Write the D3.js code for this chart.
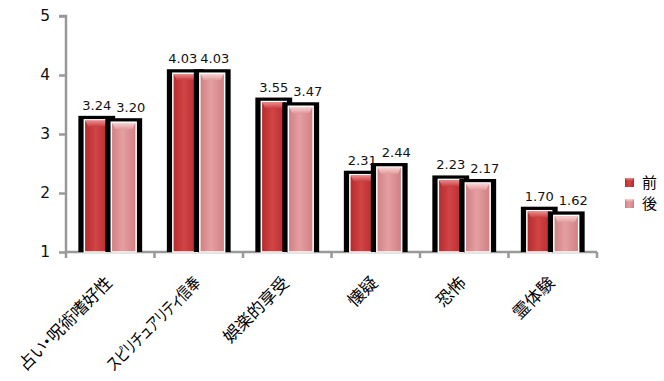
<!DOCTYPE html>
<html><head><meta charset="utf-8">
<script src="https://cdn.jsdelivr.net/npm/d3@7"></script>
<style>body{margin:0;background:#fff}svg{display:block}.xl{font-feature-settings:"palt" 1;}</style>
</head><body>
<svg id="c" width="664" height="381"></svg>
<script>
const categories = ["占い・呪術嗜好性","スピリチュアリティ信奉","娯楽的享受","懐疑","恐怖","霊体験"];
const seriesNames = ["前","後"];
const before = [3.24,4.03,3.55,2.31,2.23,1.70];
const after  = [3.20,4.03,3.47,2.44,2.17,1.62];
const yTicks = [1,2,3,4,5];

const svg = d3.select("#c");
const M = {l:66, r:597, t:16, b:252};
const y = d3.scaleLinear().domain([1,5]).range([M.b, M.t]);
const x0 = d3.scaleBand().domain(categories).range([M.l, M.r]).paddingInner(0).paddingOuter(0);
const x1 = d3.scaleBand().domain(seriesNames).range([0, x0.bandwidth()]).paddingOuter(0.68).paddingInner(0.08);

const defs = svg.append("defs");
const pal = {
  "前": {edge:"#b42a2c", mid:"#d24446", cap:"#ee8a8a", capEdge:"#c63c3e"},
  "後": {edge:"#cf7f82", mid:"#e59fa1", cap:"#f9d2d2", capEdge:"#e0999b"}
};
seriesNames.forEach((s,i)=>{
  const p = pal[s];
  const g = defs.append("linearGradient").attr("id","body"+i).attr("x1","0").attr("x2","1").attr("y1","0").attr("y2","0");
  g.append("stop").attr("offset","0").attr("stop-color",p.edge);
  g.append("stop").attr("offset","0.45").attr("stop-color",p.mid);
  g.append("stop").attr("offset","1").attr("stop-color",p.edge);
  const c = defs.append("linearGradient").attr("id","cap"+i).attr("x1","0").attr("x2","0").attr("y1","0").attr("y2","1");
  c.append("stop").attr("offset","0").attr("stop-color",p.cap);
  c.append("stop").attr("offset","1").attr("stop-color",p.capEdge);
});

// axes
const axisColor = "#999";
const yAxis = svg.append("g").attr("transform",`translate(${M.l},0)`)
  .call(d3.axisLeft(y).tickValues(yTicks).tickFormat(d3.format("d")).tickSize(7).tickPadding(9));
yAxis.select(".domain").attr("stroke",axisColor).attr("stroke-width",2.5).attr("d",`M-7,${M.t}H0V${M.b}`);
yAxis.selectAll(".tick line").attr("stroke",axisColor).attr("stroke-width",2.5);
yAxis.selectAll(".tick text").attr("font-family","DejaVu Sans, sans-serif").attr("font-size",15.5).attr("fill","#111");

const bounds = categories.map(c=>x0(c)).concat([M.r]);
const xg = svg.append("g");
xg.append("line").attr("x1",M.l).attr("x2",M.r).attr("y1",M.b).attr("y2",M.b).attr("stroke",axisColor).attr("stroke-width",2.5);
xg.selectAll("line.t").data(bounds).join("line").attr("class","t")
  .attr("x1",d=>d).attr("x2",d=>d).attr("y1",M.b).attr("y2",M.b+6).attr("stroke",axisColor).attr("stroke-width",2.5);

// bars
const data = categories.map((c,i)=>({c, vals:[{s:"前",v:before[i],i:0},{s:"後",v:after[i],i:1}]}));
const groups = svg.append("g").selectAll("g").data(data).join("g").attr("transform",d=>`translate(${x0(d.c)},0)`);
groups.each(function(d){
  const g = d3.select(this);
  d.vals.forEach(b=>{
    const bx = x1(b.s), bw = x1.bandwidth(), by = y(b.v), bh = M.b - y(b.v);
    g.append("rect").attr("x",bx-6).attr("y",by-4).attr("width",bw+12).attr("height",bh+4).attr("fill","#000");
    g.append("rect").attr("x",bx).attr("y",by).attr("width",bw).attr("height",bh)
      .attr("fill",`url(#body${b.i})`).attr("stroke","#fff").attr("stroke-width",1.5);
    g.append("path").attr("d",`M${bx+0.75},${by+0.75}H${bx+bw-0.75}L${bx+bw-4},${by+7}H${bx+4}Z`)
      .attr("fill",`url(#cap${b.i})`);
  });
});
groups.each(function(d){
  const g = d3.select(this);
  const differ = d.vals[0].v !== d.vals[1].v;
  d.vals.forEach(b=>{
    const bx = x1(b.s), bw = x1.bandwidth(), by = y(b.v);
    const off = b.i===1 ? (differ ? 7 : 2.5) : (differ ? 0 : -2.5);
    g.append("text").attr("x",bx+bw/2+off).attr("y",by-10)
      .attr("text-anchor","middle").attr("font-family","DejaVu Sans, sans-serif").attr("font-size",13).attr("fill","#111")
      .text(d3.format(".2f")(b.v));
  });
});

// x labels
const maxLen = 124;
svg.append("g").selectAll("text").data(categories).join("text").attr("class","xl")
  .attr("transform",d=>`translate(${x0(d)+x0.bandwidth()/2+3},${284}) rotate(-45)`)
  .attr("text-anchor","end").attr("font-family","Noto Sans CJK JP, sans-serif").attr("font-size",17).attr("fill","#000")
  .text(d=>d)
  .each(function(){
    const len = this.getComputedTextLength();
    if (len > maxLen) d3.select(this).attr("textLength",maxLen).attr("lengthAdjust","spacingAndGlyphs");
  });

// legend
const lg = svg.append("g").selectAll("g").data(seriesNames).join("g")
  .attr("transform",(d,i)=>`translate(625,${178+i*21})`);
lg.append("rect").attr("width",9).attr("height",9).attr("fill",(d,i)=>`url(#body${i})`);
lg.append("path").attr("d","M0,0H9L7,3H2Z").attr("fill",(d,i)=>`url(#cap${i})`);
lg.append("text").attr("x",17).attr("y",10).attr("font-family","Noto Sans CJK JP, sans-serif").attr("font-size",15).attr("fill","#000").text(d=>d);
</script>
</body></html>
